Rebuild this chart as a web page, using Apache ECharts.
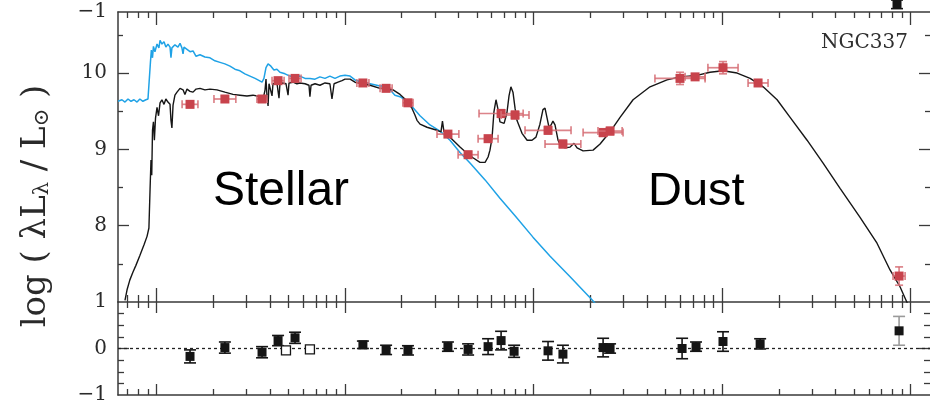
<!DOCTYPE html>
<html>
<head>
<meta charset="utf-8">
<script src="https://cdn.jsdelivr.net/npm/echarts@6/dist/echarts.min.js"></script>
<style>
  html, body { margin: 0; padding: 0; background: #ffffff; }
  #chart { width: 930px; height: 405px; }
</style>
</head>
<body>
<div id="chart"></div>
<script>
// NGC337 spectral energy distribution: x is log10(wavelength / micron)

// wavelength range of the panels, log10(micron)
const X_MIN = -1.204;
const X_MAX = 3.103;

// decade marks (micron) and the multipliers that get minor ticks
const majorWavelengths = [0.1, 1, 10, 100, 1000];
const minorMultipliers = [2, 3, 4, 5, 6, 7, 8, 9];

// top panel ticks / labels (log L)
const sedMajorTicks = [8, 9, 10];
const sedMinorTicks = [7.5, 8.5, 9.5, 10.5];
const sedLabels = [8, 9, 10];
// residual panel ticks / labels
const resMajorTicks = [0];
const resMinorTicks = [-0.75, -0.5, -0.25, 0.25, 0.5, 0.75];
const resLabels = [-1, 0, 1];
// lowest label of the residual panel belonging to the galaxy above
const aboveLabels = [-1];

// unattenuated stellar spectrum [log lambda, log(lambda L_lambda / Lsun)]
const stellarUnattenuated = [
  [-1.204,9.63],[-1.183,9.65],[-1.167,9.62],[-1.151,9.66],[-1.135,9.63],[-1.119,9.65],
  [-1.103,9.62],[-1.088,9.66],[-1.072,9.63],[-1.056,9.65],[-1.045,9.66],[-1.037,9.65],
  [-1.032,10.14],[-1.027,10.30],[-1.021,10.20],[-1.016,10.35],[-1.008,10.28],[-0.997,10.38],
  [-0.987,10.33],[-0.981,10.43],[-0.971,10.38],[-0.960,10.41],[-0.950,10.34],[-0.939,10.38],
  [-0.928,10.34],[-0.923,10.20],[-0.918,10.33],[-0.902,10.37],[-0.886,10.34],[-0.875,10.39],
  [-0.865,10.33],[-0.859,10.25],[-0.854,10.34],[-0.838,10.31],[-0.822,10.28],[-0.806,10.29],
  [-0.790,10.22],[-0.769,10.24],[-0.743,10.21],[-0.716,10.20],[-0.690,10.16],[-0.663,10.14],
  [-0.637,10.12],[-0.610,10.09],[-0.584,10.05],[-0.557,10.03],[-0.531,9.99],[-0.504,9.96],
  [-0.477,9.93],[-0.462,9.91],[-0.440,9.88],[-0.430,9.93],[-0.419,10.07],[-0.408,10.12],
  [-0.393,10.09],[-0.377,10.04],[-0.361,10.05],[-0.345,10.01],[-0.318,9.99],[-0.292,9.96],
  [-0.265,9.95],[-0.239,9.96],[-0.212,9.93],[-0.186,9.93],[-0.159,9.92],[-0.133,9.95],
  [-0.106,9.93],[-0.080,9.96],[-0.053,9.93],[-0.027,9.96],[0.000,9.97],[0.027,9.96],
  [0.053,9.91],[0.090,9.88],[0.133,9.86],[0.186,9.83],[0.212,9.83],[0.239,9.78],
  [0.265,9.71],[0.292,9.69],[0.318,9.65],[0.345,9.59],[0.398,9.44],[0.451,9.32],
  [0.504,9.24],[0.557,9.12],[0.610,8.96],[0.663,8.82],[0.743,8.60],[0.822,8.36],
  [0.902,8.13],[0.997,7.85],[1.088,7.60],[1.194,7.33],[1.310,7.03],[1.353,6.91]
];

// best-fit model: attenuated stars + dust emission
const totalModel = [
  [-1.167,7.02],[-1.156,7.16],[-1.141,7.29],[-1.125,7.39],[-1.109,7.48],[-1.088,7.61],
  [-1.066,7.75],[-1.050,7.86],[-1.040,7.97],[-1.034,8.47],[-1.029,8.86],[-1.025,8.66],
  [-1.021,9.25],[-1.016,9.36],[-1.011,9.12],[-1.005,9.41],[-0.997,9.55],[-0.989,9.44],
  [-0.981,9.61],[-0.971,9.65],[-0.960,9.59],[-0.950,9.66],[-0.939,9.62],[-0.928,9.59],
  [-0.923,9.38],[-0.918,9.28],[-0.912,9.58],[-0.902,9.71],[-0.891,9.75],[-0.875,9.80],
  [-0.859,9.78],[-0.849,9.72],[-0.838,9.79],[-0.822,9.76],[-0.806,9.75],[-0.790,9.79],
  [-0.769,9.80],[-0.743,9.78],[-0.716,9.79],[-0.679,9.78],[-0.637,9.75],[-0.594,9.72],
  [-0.557,9.71],[-0.520,9.70],[-0.488,9.71],[-0.467,9.70],[-0.446,9.69],[-0.435,9.65],
  [-0.424,9.78],[-0.419,9.92],[-0.414,9.71],[-0.408,9.57],[-0.403,9.86],[-0.393,9.87],
  [-0.387,9.70],[-0.382,9.86],[-0.361,9.87],[-0.350,9.67],[-0.345,9.86],[-0.329,9.87],
  [-0.313,9.86],[-0.302,9.71],[-0.297,9.87],[-0.276,9.88],[-0.255,9.86],[-0.239,9.87],
  [-0.212,9.86],[-0.191,9.84],[-0.186,9.69],[-0.180,9.84],[-0.159,9.86],[-0.133,9.84],
  [-0.106,9.87],[-0.080,9.86],[-0.069,9.66],[-0.058,9.86],[-0.037,9.88],[-0.016,9.90],
  [0.000,9.92],[0.027,9.92],[0.053,9.88],[0.090,9.86],[0.133,9.84],[0.186,9.80],
  [0.228,9.79],[0.255,9.78],[0.292,9.72],[0.318,9.66],[0.334,9.61],[0.355,9.54],
  [0.371,9.45],[0.382,9.38],[0.398,9.33],[0.435,9.29],[0.488,9.25],[0.509,9.23],
  [0.517,9.37],[0.525,9.23],[0.557,9.16],[0.610,9.03],[0.647,8.95],[0.679,8.89],
  [0.716,8.83],[0.743,8.83],[0.759,8.90],[0.769,8.99],[0.780,9.15],[0.790,9.49],
  [0.801,9.65],[0.812,9.52],[0.822,9.36],[0.844,9.34],[0.859,9.48],[0.870,9.70],
  [0.880,9.82],[0.891,9.75],[0.902,9.54],[0.912,9.38],[0.939,9.21],[0.966,9.12],
  [0.992,9.12],[1.013,9.16],[1.034,9.33],[1.050,9.52],[1.061,9.54],[1.072,9.41],
  [1.082,9.29],[1.093,9.32],[1.103,9.37],[1.114,9.32],[1.130,9.12],[1.146,9.04],
  [1.167,9.02],[1.194,9.03],[1.215,9.08],[1.231,9.02],[1.263,8.98],[1.316,8.99],
  [1.353,9.07],[1.406,9.23],[1.459,9.42],[1.528,9.65],[1.618,9.82],[1.708,9.91],
  [1.777,9.95],[1.867,9.97],[1.936,10.01],[2.005,10.03],[2.080,10.00],[2.149,9.93],
  [2.218,9.82],[2.292,9.65],[2.361,9.42],[2.451,9.12],[2.536,8.82],[2.626,8.49],
  [2.732,8.11],[2.822,7.77],[2.891,7.42],[2.944,7.20],[2.971,7.05],[2.987,6.96]
];

// observed photometry [log lambda, log L, half band width (dex), error (dex)]
const photometry = [
  [-0.822,9.59,0.042,0.04],[-0.637,9.66,0.058,0.04],[-0.440,9.66,0.027,0.04],
  [-0.355,9.90,0.032,0.04],[-0.265,9.93,0.032,0.04],[0.095,9.87,0.032,0.04],
  [0.218,9.80,0.032,0.04],[0.334,9.61,0.027,0.04],[0.546,9.20,0.058,0.04],
  [0.653,8.93,0.053,0.04],[0.759,9.14,0.053,0.04],[0.828,9.47,0.117,0.05],
  [0.902,9.45,0.074,0.05],[1.077,9.25,0.122,0.05],[1.156,9.07,0.095,0.05],
  [1.369,9.22,0.106,0.05],[1.406,9.24,0.064,0.05],[1.777,9.93,0.133,0.08],
  [1.857,9.95,0.053,0.03],[2.005,10.07,0.080,0.08],[2.191,9.87,0.053,0.04],
  [2.939,7.34,0.032,0.12]
];

// residuals [log lambda, obs - model, error, style: 0 filled, 1 open, 2 filled with grey bar]
const residuals = [
  [-0.822,-0.17,0.14,0],[-0.637,0.02,0.12,0],[-0.440,-0.08,0.12,0],
  [-0.355,0.17,0.11,0],[-0.313,-0.04,0.00,1],[-0.265,0.23,0.12,0],
  [-0.186,-0.02,0.00,1],[0.095,0.08,0.08,0],[0.218,-0.03,0.10,0],
  [0.334,-0.04,0.10,0],[0.546,0.04,0.10,0],[0.653,-0.02,0.12,0],
  [0.759,0.04,0.17,0],[0.828,0.17,0.20,0],[0.897,-0.06,0.13,0],
  [1.077,-0.05,0.20,0],[1.156,-0.12,0.19,0],[1.369,0.02,0.20,0],
  [1.406,0.00,0.10,0],[1.788,0.00,0.22,0],[1.862,0.04,0.10,0],
  [2.005,0.15,0.21,0],[2.202,0.10,0.11,0],[2.939,0.38,0.31,2]
];

// residual of the galaxy plotted above this one (only its foot is visible)
const residualsAbove = [[2.928,-0.84,0.09,0]];

const AXIS = '#3a3a3a';
const SERIF = '"DejaVu Serif", "Liberation Serif", serif';
const SANS = '"Liberation Sans", Arial, sans-serif';
const OBS_FILL = '#c8434c';
const OBS_BAR = 'rgba(214,110,118,0.85)';

const lg = Math.log10;
const majorX = majorWavelengths.map(lg);
const minorX = [];
majorX.concat([Math.floor(X_MIN)]).forEach(function (d) {
  minorMultipliers.forEach(function (m) {
    const v = d + lg(m);
    if (v > X_MIN && v < X_MAX) minorX.push(v);
  });
});

function minusFmt(v) {
  return v < 0 ? '\u2212' + Math.abs(v) : String(v);
}

function xEdge(grid, position, ticks, length, showLine) {
  return {
    type: 'value', gridIndex: grid, position: position, min: X_MIN, max: X_MAX,
    axisLine: { show: showLine, onZero: false, lineStyle: { color: AXIS, width: 1.5 } },
    axisTick: { show: true, inside: true, length: length, customValues: ticks,
                lineStyle: { color: AXIS, width: 1.3 } },
    axisLabel: { show: false }, splitLine: { show: false }
  };
}

function yEdge(grid, position, min, max, ticks, length, labels, showLine) {
  return {
    type: 'value', gridIndex: grid, position: position, min: min, max: max,
    axisLine: { show: showLine, onZero: false, lineStyle: { color: AXIS, width: 1.5 } },
    axisTick: { show: ticks.length > 0, inside: true, length: length, customValues: ticks,
                lineStyle: { color: AXIS, width: 1.3 } },
    axisLabel: labels ? { show: true, customValues: labels, formatter: minusFmt,
                          fontFamily: SERIF, fontSize: 20, color: '#2a2a2a', margin: 11 }
                      : { show: false },
    splitLine: { show: false }
  };
}

function renderPhotometry(params, api) {
  const x = api.value(0), y = api.value(1), dx = api.value(2), dy = api.value(3);
  const c = api.coord([x, y]);
  const l = api.coord([x - dx, y]);
  const r = api.coord([x + dx, y]);
  const t = api.coord([x, y + dy]);
  const b = api.coord([x, y - dy]);
  const cap = 4, s = 4.5;
  const st = { stroke: OBS_BAR, lineWidth: 1.7 };
  return {
    type: 'group',
    children: [
      { type: 'line', shape: { x1: l[0], y1: c[1], x2: r[0], y2: c[1] }, style: st },
      { type: 'line', shape: { x1: l[0], y1: c[1] - cap, x2: l[0], y2: c[1] + cap }, style: st },
      { type: 'line', shape: { x1: r[0], y1: c[1] - cap, x2: r[0], y2: c[1] + cap }, style: st },
      { type: 'line', shape: { x1: c[0], y1: t[1], x2: c[0], y2: b[1] }, style: st },
      { type: 'line', shape: { x1: c[0] - cap, y1: t[1], x2: c[0] + cap, y2: t[1] }, style: st },
      { type: 'line', shape: { x1: c[0] - cap, y1: b[1], x2: c[0] + cap, y2: b[1] }, style: st },
      { type: 'rect', shape: { x: c[0] - s, y: c[1] - s, width: 2 * s, height: 2 * s },
        style: { fill: OBS_FILL } }
    ]
  };
}

function renderResidual(params, api) {
  const x = api.value(0), y = api.value(1), e = api.value(2), kind = api.value(3);
  const c = api.coord([x, y]);
  const t = api.coord([x, y + e]);
  const b = api.coord([x, y - e]);
  const cap = 6, s = 4.5;
  const barColor = kind === 2 ? '#9a9a9a' : '#151515';
  const st = { stroke: barColor, lineWidth: 1.6 };
  const children = [];
  if (e > 0) {
    children.push(
      { type: 'line', shape: { x1: c[0], y1: t[1], x2: c[0], y2: b[1] }, style: st },
      { type: 'line', shape: { x1: c[0] - cap, y1: t[1], x2: c[0] + cap, y2: t[1] }, style: st },
      { type: 'line', shape: { x1: c[0] - cap, y1: b[1], x2: c[0] + cap, y2: b[1] }, style: st }
    );
  }
  children.push({
    type: 'rect', shape: { x: c[0] - s, y: c[1] - s, width: 2 * s, height: 2 * s },
    style: kind === 1 ? { fill: '#ffffff', stroke: '#151515', lineWidth: 1.3 }
                      : { fill: '#151515' }
  });
  return { type: 'group', children: children };
}

const chart = echarts.init(document.getElementById('chart'), null, { renderer: 'canvas' });

chart.setOption({
  animation: false,
  backgroundColor: '#ffffff',
  grid: [
    { left: 118, right: 0, top: 12, height: 290 },   // SED
    { left: 118, right: 0, top: 302, height: 96 },   // residuals
    { left: 118, right: 0, top: 0, height: 12 }      // foot of the residual panel above
  ],
  xAxis: [
    xEdge(0, 'top', majorX, 13, true),
    xEdge(0, 'top', minorX, 6, false),
    xEdge(0, 'bottom', majorX, 14, true),
    xEdge(0, 'bottom', minorX, 7, false),
    xEdge(1, 'top', majorX, 11, false),
    xEdge(1, 'top', minorX, 6, false),
    xEdge(1, 'bottom', majorX, 11, true),
    xEdge(1, 'bottom', minorX, 6, false),
    { type: 'value', gridIndex: 2, min: X_MIN, max: X_MAX, show: false }
  ],
  yAxis: [
    yEdge(0, 'left', 7, 10.8, sedMajorTicks, 11, sedLabels, true),
    yEdge(0, 'left', 7, 10.8, sedMinorTicks, 5, null, false),
    yEdge(0, 'right', 7, 10.8, sedMajorTicks, 11, null, false),
    yEdge(0, 'right', 7, 10.8, sedMinorTicks, 5, null, false),
    yEdge(1, 'left', -1, 1, resMajorTicks, 11, resLabels, true),
    yEdge(1, 'left', -1, 1, resMinorTicks, 6, null, false),
    yEdge(1, 'right', -1, 1, resMajorTicks, 11, null, false),
    yEdge(1, 'right', -1, 1, resMinorTicks, 6, null, false),
    yEdge(2, 'left', -1, -0.75, [], 0, aboveLabels, false)
  ],
  series: [
    {
      name: 'unattenuated stars', type: 'line', xAxisIndex: 0, yAxisIndex: 0,
      data: stellarUnattenuated, showSymbol: false, z: 2, clip: true,
      lineStyle: { color: '#1fa2e6', width: 1.5 }
    },
    {
      name: 'model', type: 'line', xAxisIndex: 0, yAxisIndex: 0,
      data: totalModel, showSymbol: false, z: 3, clip: true,
      lineStyle: { color: '#161616', width: 1.4 }
    },
    {
      name: 'observed', type: 'custom', coordinateSystem: 'cartesian2d',
      xAxisIndex: 0, yAxisIndex: 0, data: photometry, encode: { x: 0, y: 1 },
      renderItem: renderPhotometry, z: 5
    },
    {
      name: 'zero', type: 'scatter', xAxisIndex: 4, yAxisIndex: 4,
      data: residuals.map(function (d) { return [d[0], d[1]]; }), symbolSize: 0,
      markLine: {
        silent: true, symbol: 'none', label: { show: false },
        lineStyle: { type: [3, 3], color: '#222222', width: 1.3 },
        data: [{ yAxis: 0 }]
      }
    },
    {
      name: 'residuals', type: 'custom', coordinateSystem: 'cartesian2d',
      xAxisIndex: 4, yAxisIndex: 4, data: residuals, encode: { x: 0, y: 1 },
      renderItem: renderResidual, z: 5
    },
    {
      name: 'residuals above', type: 'custom', coordinateSystem: 'cartesian2d',
      xAxisIndex: 8, yAxisIndex: 8, data: residualsAbove, encode: { x: 0, y: 1 },
      renderItem: renderResidual, z: 5
    }
  ],
  graphic: [
    {
      type: 'text', x: 36, y: 206, rotation: Math.PI / 2,
      style: {
        text: 'log ( \u03bbL{sub|\u03bb} / L{sub|\u2299} )',
        font: '34px ' + SERIF, fill: '#2a2a2a',
        textAlign: 'center', textVerticalAlign: 'middle',
        rich: { sub: { font: '21px ' + SERIF, fill: '#2a2a2a', verticalAlign: 'bottom' } }
      }
    },
    {
      type: 'text', x: 213, y: 192,
      style: { text: 'Stellar', font: '48px ' + SANS, fill: '#000000',
               textAlign: 'left', textVerticalAlign: 'middle' }
    },
    {
      type: 'text', x: 648, y: 192,
      style: { text: 'Dust', font: '47px ' + SANS, fill: '#000000',
               textAlign: 'left', textVerticalAlign: 'middle' }
    },
    {
      type: 'text', x: 908, y: 43,
      style: { text: 'NGC337', font: '20px ' + SERIF, fill: '#2f2f2f',
               textAlign: 'right', textVerticalAlign: 'middle' }
    }
  ]
});
</script>
</body>
</html>
